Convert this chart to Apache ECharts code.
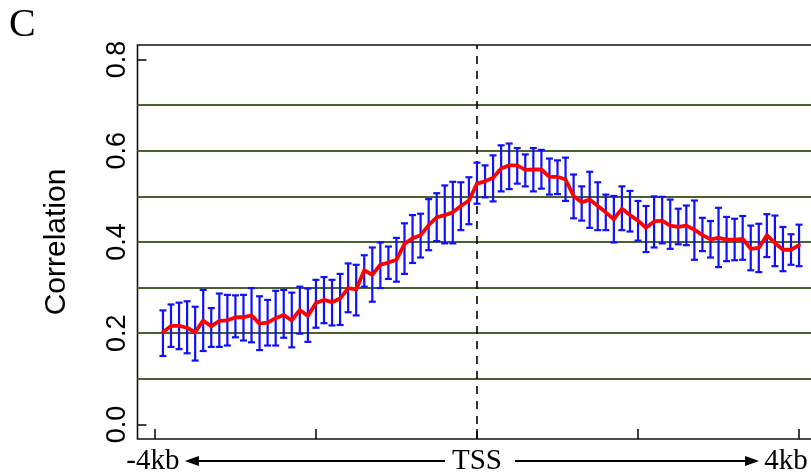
<!DOCTYPE html>
<html>
<head>
<meta charset="utf-8">
<script src="https://cdn.jsdelivr.net/npm/echarts@6/dist/echarts.min.js"></script>
<style>
  html, body { margin: 0; padding: 0; background: #fff; width: 811px; height: 475px; overflow: hidden; }
  /* the plot box continues a little past the right edge of the page */
  #chart { width: 825px; height: 475px; }
</style>
</head>
<body>
<div id="chart"></div>
<script>
// Bin centres (bp relative to TSS)
const positions = [
  -3900, -3800, -3700, -3600, -3500, -3400, -3300, -3200, -3100, -3000,
  -2900, -2800, -2700, -2600, -2500, -2400, -2300, -2200, -2100, -2000,
  -1900, -1800, -1700, -1600, -1500, -1400, -1300, -1200, -1100, -1000,
  -900, -800, -700, -600, -500, -400, -300, -200, -100, 0,
  100, 200, 300, 400, 500, 600, 700, 800, 900, 1000,
  1100, 1200, 1300, 1400, 1500, 1600, 1700, 1800, 1900, 2000,
  2100, 2200, 2300, 2400, 2500, 2600, 2700, 2800, 2900, 3000,
  3100, 3200, 3300, 3400, 3500, 3600, 3700, 3800, 3900, 4000
];

// Mean correlation per bin
const meanCorr = [
  0.202, 0.216, 0.216, 0.212, 0.202, 0.228, 0.215, 0.227, 0.228, 0.235,
  0.235, 0.239, 0.221, 0.223, 0.233, 0.240, 0.228, 0.251, 0.238, 0.266,
  0.273, 0.268, 0.276, 0.299, 0.296, 0.338, 0.328, 0.350, 0.355, 0.361,
  0.396, 0.408, 0.415, 0.437, 0.454, 0.459, 0.465, 0.479, 0.491, 0.528,
  0.533, 0.541, 0.561, 0.568, 0.568, 0.558, 0.559, 0.559, 0.543, 0.543,
  0.537, 0.501, 0.487, 0.493, 0.479, 0.465, 0.450, 0.473, 0.459, 0.447,
  0.431, 0.445, 0.447, 0.436, 0.433, 0.436, 0.427, 0.415, 0.406, 0.409,
  0.405, 0.405, 0.407, 0.385, 0.387, 0.415, 0.398, 0.383, 0.383, 0.393
];

// Upper end of each error bar
const upperCorr = [
  0.250, 0.263, 0.267, 0.270, 0.258, 0.295, 0.255, 0.287, 0.284, 0.283,
  0.284, 0.299, 0.281, 0.273, 0.293, 0.295, 0.289, 0.302, 0.298, 0.317,
  0.323, 0.317, 0.330, 0.353, 0.350, 0.371, 0.388, 0.399, 0.390, 0.409,
  0.441, 0.459, 0.462, 0.494, 0.507, 0.524, 0.532, 0.531, 0.542, 0.574,
  0.568, 0.590, 0.612, 0.616, 0.606, 0.592, 0.606, 0.602, 0.583, 0.579,
  0.585, 0.548, 0.522, 0.554, 0.531, 0.504, 0.501, 0.522, 0.512, 0.490,
  0.479, 0.500, 0.499, 0.493, 0.473, 0.480, 0.491, 0.453, 0.446, 0.475,
  0.455, 0.451, 0.457, 0.436, 0.440, 0.461, 0.458, 0.433, 0.417, 0.438
];

// Lower end of each error bar
const lowerCorr = [
  0.150, 0.170, 0.165, 0.156, 0.140, 0.161, 0.170, 0.170, 0.173, 0.191,
  0.184, 0.180, 0.163, 0.173, 0.173, 0.190, 0.169, 0.199, 0.181, 0.212,
  0.222, 0.217, 0.218, 0.246, 0.239, 0.302, 0.269, 0.299, 0.319, 0.313,
  0.330, 0.354, 0.366, 0.382, 0.402, 0.397, 0.397, 0.426, 0.439, 0.484,
  0.498, 0.489, 0.511, 0.516, 0.528, 0.522, 0.511, 0.517, 0.504, 0.505,
  0.490, 0.452, 0.447, 0.431, 0.426, 0.426, 0.399, 0.426, 0.423, 0.403,
  0.378, 0.388, 0.397, 0.385, 0.395, 0.393, 0.361, 0.380, 0.366, 0.345,
  0.358, 0.360, 0.361, 0.338, 0.334, 0.367, 0.347, 0.336, 0.350, 0.347
];

// Axis ticks, reference lines and x-axis captions
const xTickValues = [-4000, -2000, 0, 2000, 4000];
const yTickValues = [0, 0.2, 0.4, 0.6, 0.8];
const gridValues = [0.1, 0.2, 0.3, 0.4, 0.5, 0.6, 0.7];
const xCaptionLeft = '-4kb';
const xCaptionMid = 'TSS';
const xCaptionRight = '4kb';

// Axis limits padded 4% beyond the data range
const xMin = -4216, xMax = 4316;
const yMin = -0.032, yMax = 0.832;

const chart = echarts.init(document.getElementById('chart'), null, { renderer: 'canvas' });

const lineData = positions.map((p, i) => [p, meanCorr[i]]);
const barData = positions.map((p, i) => [p, lowerCorr[i], upperCorr[i]]);

const sansFont = '"Liberation Sans", Arial, Helvetica, sans-serif';
const serifFont = '"Liberation Serif", "Times New Roman", serif';

chart.setOption({
  animation: false,
  backgroundColor: '#ffffff',
  title: {
    text: 'C',
    left: 4,
    top: 0,
    textStyle: { fontFamily: serifFont, fontSize: 40, fontWeight: 'normal', color: '#000' }
  },
  grid: {
    left: 137.5,
    top: 45,
    right: 0.5,
    bottom: 36,
    show: true,
    borderColor: '#111',
    borderWidth: 1.6,
    backgroundColor: 'transparent'
  },
  xAxis: {
    type: 'value',
    min: xMin,
    max: xMax,
    axisLine: { show: false, onZero: false },
    splitLine: { show: false },
    axisTick: {
      show: true,
      inside: true,
      length: 10,
      customValues: xTickValues,
      lineStyle: { color: '#111', width: 1.6 }
    },
    axisLabel: { show: false }
  },
  yAxis: {
    type: 'value',
    min: yMin,
    max: yMax,
    axisLine: { show: false, onZero: false },
    splitLine: { show: false },
    axisTick: {
      show: true,
      inside: true,
      length: 9,
      customValues: yTickValues,
      lineStyle: { color: '#111', width: 1.6 }
    },
    axisLabel: {
      customValues: yTickValues,
      rotate: 90,
      margin: 6,
      fontFamily: sansFont,
      fontSize: 27,
      color: '#000',
      formatter: v => v.toFixed(1)
    },
    name: 'Correlation',
    nameLocation: 'middle',
    nameRotate: 90,
    nameGap: 66,
    nameTextStyle: { fontFamily: sansFont, fontSize: 30, color: '#000' }
  },
  series: [
    {
      // horizontal reference lines and the TSS marker
      type: 'line',
      data: [],
      silent: true,
      z: 1,
      markLine: {
        z: 1,
        silent: true,
        symbol: 'none',
        label: { show: false },
        animation: false,
        data: gridValues.map(v => ({
          yAxis: v,
          lineStyle: { color: '#4a602f', width: 2, type: 'solid' }
        })).concat([{
          xAxis: 0,
          lineStyle: { color: '#000', width: 1.6, type: [8, 7] }
        }])
      }
    },
    {
      // error bars with caps
      type: 'custom',
      z: 2,
      silent: true,
      data: barData,
      renderItem: function (params, api) {
        const x = api.value(0);
        const top = api.coord([x, api.value(2)]);
        const bot = api.coord([x, api.value(1)]);
        const half = 3.5;
        const style = { stroke: '#1010ff', lineWidth: 2.2 };
        return {
          type: 'group',
          children: [
            { type: 'line', shape: { x1: top[0], y1: top[1], x2: bot[0], y2: bot[1] }, style: style },
            { type: 'line', shape: { x1: top[0] - half, y1: top[1], x2: top[0] + half, y2: top[1] }, style: style },
            { type: 'line', shape: { x1: bot[0] - half, y1: bot[1], x2: bot[0] + half, y2: bot[1] }, style: style }
          ]
        };
      }
    },
    {
      // mean correlation
      type: 'line',
      z: 3,
      silent: true,
      data: lineData,
      symbol: 'none',
      lineStyle: { color: '#ff0000', width: 3.8, join: 'round', cap: 'round' }
    }
  ]
});

// Captions and arrows under the x axis, placed from the axis scale
function drawCaptions() {
  const xL = chart.convertToPixel({ xAxisIndex: 0 }, -4000);
  const xC = chart.convertToPixel({ xAxisIndex: 0 }, 0);
  const xR = chart.convertToPixel({ xAxisIndex: 0 }, 4000);
  const yBase = chart.convertToPixel({ yAxisIndex: 0 }, yMin);
  const yRow = yBase + 22;
  const textStyle = { fontFamily: serifFont, fontSize: 29, fill: '#000', verticalAlign: 'middle', align: 'center' };
  const arrow = (xTail, xTip) => {
    const dir = xTip > xTail ? 1 : -1;
    const headLen = 14, headHalf = 5;
    return [
      { type: 'line', shape: { x1: xTail, y1: yRow, x2: xTip - dir * headLen * 0.6, y2: yRow },
        style: { stroke: '#000', lineWidth: 2 } },
      { type: 'polygon', shape: { points: [[xTip, yRow], [xTip - dir * headLen, yRow - headHalf], [xTip - dir * headLen, yRow + headHalf]] },
        style: { fill: '#000' } }
    ];
  };
  chart.setOption({
    graphic: [
      { type: 'text', x: xL - 2, y: yRow, style: Object.assign({ text: xCaptionLeft }, textStyle) },
      { type: 'text', x: xC, y: yRow, style: Object.assign({ text: xCaptionMid }, textStyle) },
      { type: 'text', x: xR - 13, y: yRow, style: Object.assign({ text: xCaptionRight }, textStyle) }
    ].concat(arrow(xC - 32, xL + 30), arrow(xC + 38, xR - 40))
  });
}
drawCaptions();
</script>
</body>
</html>
